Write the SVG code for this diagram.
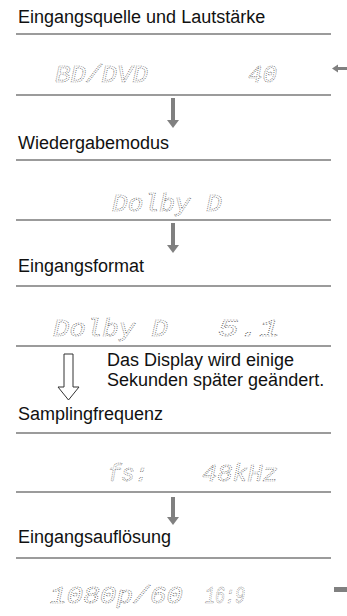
<svg xmlns="http://www.w3.org/2000/svg" width="347" height="616" viewBox="0 0 347 616">
<style>
.t{font-family:"Liberation Sans",Arial,sans-serif;font-size:18px;fill:#111}
.lcd{font-family:"Liberation Mono","DejaVu Sans Mono",monospace;font-size:23px;font-style:italic;fill:none;stroke:#5a5a5a;stroke-width:0.7;stroke-dasharray:0.9 1.1}
.rule{stroke:#7a7a7a;stroke-width:1.4}
.arr{fill:#808080}
</style>
<rect width="347" height="616" fill="#fff"/>
<g id="connectors">
<path class="arr" d="M171,98 h4 v22 h4 l-6,8 l-6,-8 h4 z"/>
<path class="arr" d="M171,223 h4 v22 h4 l-6,8 l-6,-8 h4 z"/>
<path d="M64,354 h9 v33 h6 l-10.5,13 l-10.5,-13 h6 z" fill="#fff" stroke="#333" stroke-width="1"/>
<path class="arr" d="M171,497 h4 v20 h4 l-6,8 l-6,-8 h4 z"/>
<path class="arr" d="M332,68.5 l6,-4 v2.5 h9 v3 h-9 v2.5 z"/>
<rect class="arr" x="334" y="587" width="13" height="5"/>
</g>
<g id="node1">
<text class="t" x="18" y="23">Eingangsquelle und Lautstärke</text>
<line class="rule" x1="16" y1="34" x2="331" y2="34"/>
<text class="lcd" x="55" y="82" textLength="93" lengthAdjust="spacingAndGlyphs">BD/DVD</text>
<text class="lcd" x="248" y="82" textLength="29" lengthAdjust="spacingAndGlyphs">40</text>
<line class="rule" x1="16" y1="95" x2="331" y2="95"/>
</g>
<g id="node2">
<text class="t" x="18" y="149">Wiedergabemodus</text>
<line class="rule" x1="16" y1="160" x2="331" y2="160"/>
<text class="lcd" x="112" y="211" textLength="110" lengthAdjust="spacingAndGlyphs">Dolby D</text>
<line class="rule" x1="16" y1="220" x2="331" y2="220"/>
</g>
<g id="node3">
<text class="t" x="18" y="272">Eingangsformat</text>
<line class="rule" x1="16" y1="286" x2="331" y2="286"/>
<text class="lcd" x="53" y="336" textLength="115" lengthAdjust="spacingAndGlyphs">Dolby D</text>
<text class="lcd" x="218" y="336" textLength="62" lengthAdjust="spacingAndGlyphs">5.1</text>
<line class="rule" x1="16" y1="346" x2="331" y2="346"/>
<text class="t" x="107" y="366">Das Display wird einige</text>
<text class="t" x="107" y="386">Sekunden später geändert.</text>
</g>
<g id="node4">
<text class="t" x="18" y="420">Samplingfrequenz</text>
<line class="rule" x1="16" y1="433" x2="331" y2="433"/>
<text class="lcd" x="108" y="481" textLength="40" lengthAdjust="spacingAndGlyphs">fs:</text>
<text class="lcd" x="202" y="481" textLength="76" lengthAdjust="spacingAndGlyphs">48kHz</text>
<line class="rule" x1="16" y1="492" x2="331" y2="492"/>
</g>
<g id="node5">
<text class="t" x="18" y="543">Eingangsauflösung</text>
<line class="rule" x1="16" y1="558" x2="331" y2="558"/>
<text class="lcd" x="50" y="603" textLength="133" lengthAdjust="spacingAndGlyphs">1080p/60</text>
<text class="lcd" x="205" y="603" textLength="40" lengthAdjust="spacingAndGlyphs">16:9</text>
</g>
</svg>
